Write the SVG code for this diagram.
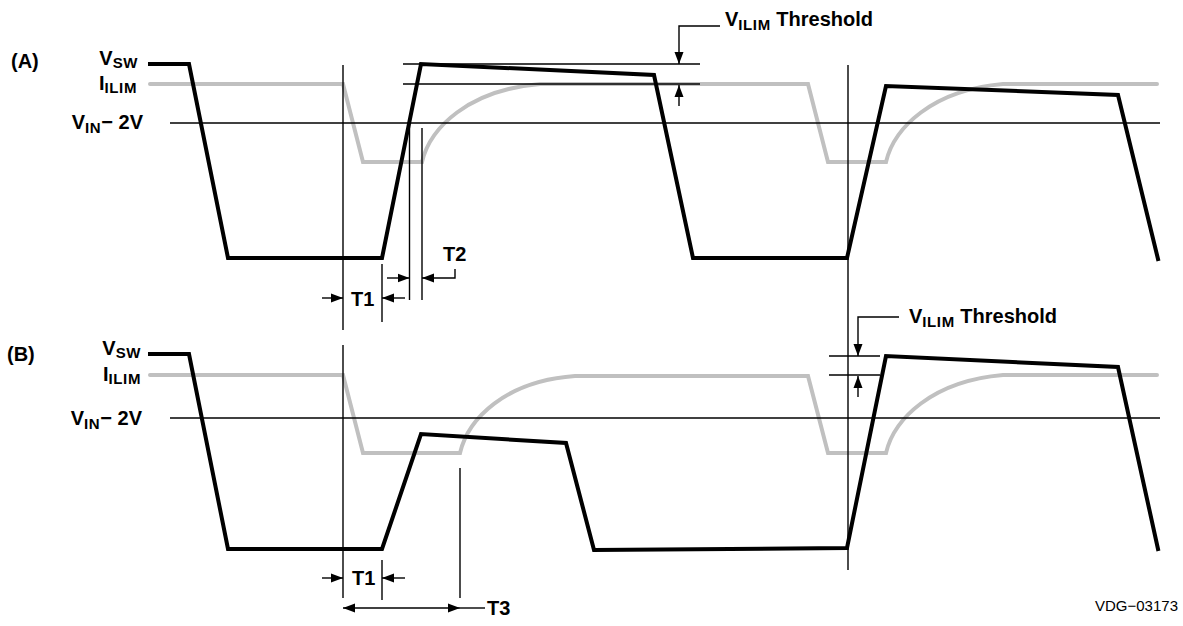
<svg xmlns="http://www.w3.org/2000/svg" width="1183" height="626" viewBox="0 0 1183 626">
<style>
text{font-family:"Liberation Sans",Arial,sans-serif;font-weight:bold;font-size:20px;fill:#000}
.sub{font-size:15px;letter-spacing:0.6px}
.t{font-size:20px}
.vsw{fill:none;stroke:#000;stroke-width:4;stroke-linejoin:miter;stroke-linecap:square}
.il{fill:none;stroke:#c0c0c0;stroke-width:4;stroke-linejoin:miter;stroke-linecap:round}
.thin{fill:none;stroke:#000;stroke-width:1.4}
.arr{fill:none;stroke:#000;stroke-width:1.4;marker-end:url(#ah)}
.id{font-weight:normal;font-size:15px}
</style>
<defs>
<marker id="ah" markerUnits="userSpaceOnUse" markerWidth="12" markerHeight="10" refX="12" refY="5" orient="auto-start-reverse">
<path d="M0,0.5 L12,5 L0,9.5 z" fill="#000"/>
</marker>
</defs>
<g id="ilim-waves">
<path class="il" d="M150,84 H343 L363,162 H422 C430,128 468,90 540,84 H808 L828,162 H886 C894,128 932,90 1003,84 H1157"/>
<path class="il" d="M150,375 H343 L363,453 H460 C468,419 505,381 575,376 H808 L828,453 H886 C894,419 932,381 1003,375 H1157"/>
</g>
<g id="reference-lines">
<line class="thin" x1="170" y1="123" x2="1160" y2="123"/>
<line class="thin" x1="170" y1="418" x2="1160" y2="418"/>
<line class="thin" x1="343" y1="65" x2="343" y2="330"/>
<line class="thin" x1="343" y1="345" x2="343" y2="598"/>
<line class="thin" x1="848" y1="65" x2="848" y2="570"/>
<line class="thin" x1="382" y1="264" x2="382" y2="322"/>
<line class="thin" x1="409.5" y1="123" x2="409.5" y2="300"/>
<line class="thin" x1="422" y1="128" x2="422" y2="300"/>
<line class="thin" x1="382" y1="560" x2="382" y2="600"/>
<line class="thin" x1="460" y1="468" x2="460" y2="598"/>
<line class="thin" x1="403" y1="64" x2="700" y2="64"/>
<line class="thin" x1="403" y1="84" x2="700" y2="84"/>
<line class="thin" x1="829" y1="356" x2="880" y2="356"/>
<line class="thin" x1="829" y1="375" x2="880" y2="375"/>
</g>
<g id="vsw-waves">
<path class="vsw" d="M150,64 H189 L228,258 H382 L421,64 L654,75 L693,258 H847 L886,86 L1118,95 L1158,259"/>
<path class="vsw" d="M150,354 H189 L228,549 H382 L421,434 L566,443 L594,550 L847,548 L886,356 L1118,367 L1158,549"/>
</g>
<g id="connectors">
<line class="arr" x1="322" y1="298" x2="343" y2="298"/>
<line class="arr" x1="405" y1="298" x2="382" y2="298"/>
<line class="arr" x1="387" y1="278" x2="409.5" y2="278"/>
<polyline class="arr" points="455,269 455,278 422,278"/>
<polyline class="arr" points="720,26 679,26 679,64"/>
<line class="arr" x1="679" y1="106" x2="679" y2="85"/>
<polyline class="arr" points="899,317 858,317 858,356"/>
<line class="arr" x1="858" y1="397" x2="858" y2="376"/>
<line class="arr" x1="322" y1="578" x2="343" y2="578"/>
<line class="arr" x1="405" y1="578" x2="382" y2="578"/>
<line class="arr" x1="343" y1="608" x2="460" y2="608" style="marker-start:url(#ah)"/>
<line class="thin" x1="460" y1="608" x2="485" y2="608"/>
</g>
<g id="label-A">
<text x="11" y="68">(A)</text>
<text x="138" y="65" text-anchor="end">V<tspan class="sub" dy="3">SW</tspan></text>
<text x="137" y="90" text-anchor="end">I<tspan class="sub" dy="3">ILIM</tspan></text>
<text x="143" y="129" text-anchor="end">V<tspan class="sub" dy="4">IN</tspan><tspan dy="-4">− 2V</tspan></text>
</g>
<g id="label-B">
<text x="7" y="361">(B)</text>
<text x="141" y="355" text-anchor="end">V<tspan class="sub" dy="3">SW</tspan></text>
<text x="141" y="381" text-anchor="end">I<tspan class="sub" dy="3">ILIM</tspan></text>
<text x="142" y="425" text-anchor="end">V<tspan class="sub" dy="4">IN</tspan><tspan dy="-4">− 2V</tspan></text>
</g>
<g id="threshold-A">
<text x="725" y="26">V<tspan class="sub" dy="4">ILIM</tspan><tspan dy="-4"> Threshold</tspan></text>
</g>
<g id="threshold-B">
<text x="909" y="323">V<tspan class="sub" dy="4">ILIM</tspan><tspan dy="-4"> Threshold</tspan></text>
</g>
<g id="timing-labels">
<text class="t" x="351" y="306">T1</text>
<text class="t" x="443" y="261">T2</text>
<text class="t" x="352" y="585">T1</text>
<text class="t" x="487" y="615">T3</text>
</g>
<g id="figure-id">
<text class="id" x="1178" y="611" text-anchor="end">VDG−03173</text>
</g>
</svg>
